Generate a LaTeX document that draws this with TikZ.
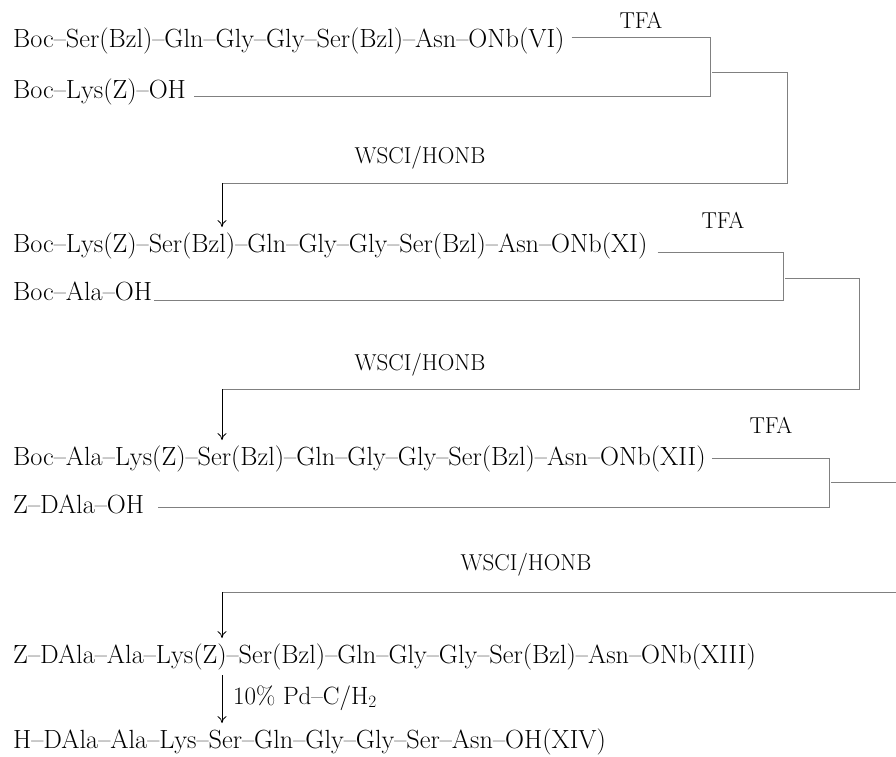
\documentclass[tikz,border=0pt]{standalone}
\usetikzlibrary{arrows.meta}
\begin{document}
\begin{tikzpicture}[x=1pt,y=-1pt,
  chem/.style={anchor=base west,inner sep=0pt,font=\fontsize{26.3}{30}\selectfont},
  reag/.style={anchor=base,inner sep=0pt,font=\fontsize{23}{27}\selectfont},
  link/.style={draw=black!50,line width=0.65pt},
  rxn/.style={draw=black,line width=0.8pt,-{To[length=7pt,width=9pt]}}]
\useasboundingbox (0,0) rectangle (896,756);
% block 1
\node[chem] (r1) at (13,47) {Boc--Ser(Bzl)--Gln--Gly--Gly--Ser(Bzl)--Asn--ONb(VI)};
\node[chem] (r2) at (13,98) {Boc--Lys(Z)--OH};
\node[reag] (tfa1) at (641,28) {TFA};
\coordinate (a1) at (710,37);
\coordinate (b1) at (710,96);
\coordinate (m1) at (712,72);
\coordinate (c1) at (787,72);
\coordinate (d1) at (787,183);
\coordinate (e1) at (222,183);
\draw[link] ([xshift=7pt]r1.east |- a1) -- (a1) -- (b1) -- ([xshift=8pt]r2.east |- b1);
\draw[link] (m1) -- (c1) -- (d1) -- (e1);
\node[reag] (w1) at (420,163) {WSCI/HONB};
% block 2
\node[chem] (r3) at (13,252) {Boc--Lys(Z)--Ser(Bzl)--Gln--Gly--Gly--Ser(Bzl)--Asn--ONb(XI)};
\draw[rxn] (e1) -- ([yshift=5pt]e1 |- r3.north);
\node[chem] (r4) at (13,300) {Boc--Ala--OH};
\node[reag] (tfa2) at (723,228) {TFA};
\coordinate (a2) at (783,252);
\coordinate (b2) at (783,300);
\coordinate (m2) at (785,278);
\coordinate (c2) at (859,278);
\coordinate (d2) at (859,389);
\coordinate (e2) at (222,389);
\draw[link] ([xshift=10pt]r3.east |- a2) -- (a2) -- (b2) -- ([xshift=2pt]r4.east |- b2);
\draw[link] (m2) -- (c2) -- (d2) -- (e2);
\node[reag] (w2) at (420,370) {WSCI/HONB};
% block 3
\node[chem] (r5) at (13,465) {Boc--Ala--Lys(Z)--Ser(Bzl)--Gln--Gly--Gly--Ser(Bzl)--Asn--ONb(XII)};
\draw[rxn] (e2) -- ([yshift=5pt]e2 |- r5.north);
\node[chem] (r6) at (13,513) {Z--DAla--OH};
\node[reag] (tfa3) at (771,433) {TFA};
\coordinate (a3) at (829,458);
\coordinate (b3) at (829,507);
\coordinate (m3) at (831,482);
\coordinate (c3) at (896,482);
\coordinate (d3) at (896,592);
\coordinate (e3) at (222,592);
\draw[link] ([xshift=6pt]r5.east |- a3) -- (a3) -- (b3) -- ([xshift=14pt]r6.east |- b3);
\draw[link] (m3) -- (c3);
\draw[link] (d3) -- (e3);
\node[reag] (w3) at (526,570) {WSCI/HONB};
% final
\node[chem] (r7) at (13,663) {Z--DAla--Ala--Lys(Z)--Ser(Bzl)--Gln--Gly--Gly--Ser(Bzl)--Asn--ONb(XIII)};
\draw[rxn] (e3) -- ([yshift=5pt]e3 |- r7.north);
\node[chem] (r8) at (13,748) {H--DAla--Ala--Lys--Ser--Gln--Gly--Gly--Ser--Asn--OH(XIV)};
\coordinate (f1) at (222,675);
\draw[rxn] (f1) -- ([yshift=5pt]f1 |- r8.north);
\node[anchor=base west,inner sep=0pt,font=\fontsize{25}{29}\selectfont] (pd) at (233,704) {10\% Pd--C/H$_2$};
\end{tikzpicture}
\end{document}
